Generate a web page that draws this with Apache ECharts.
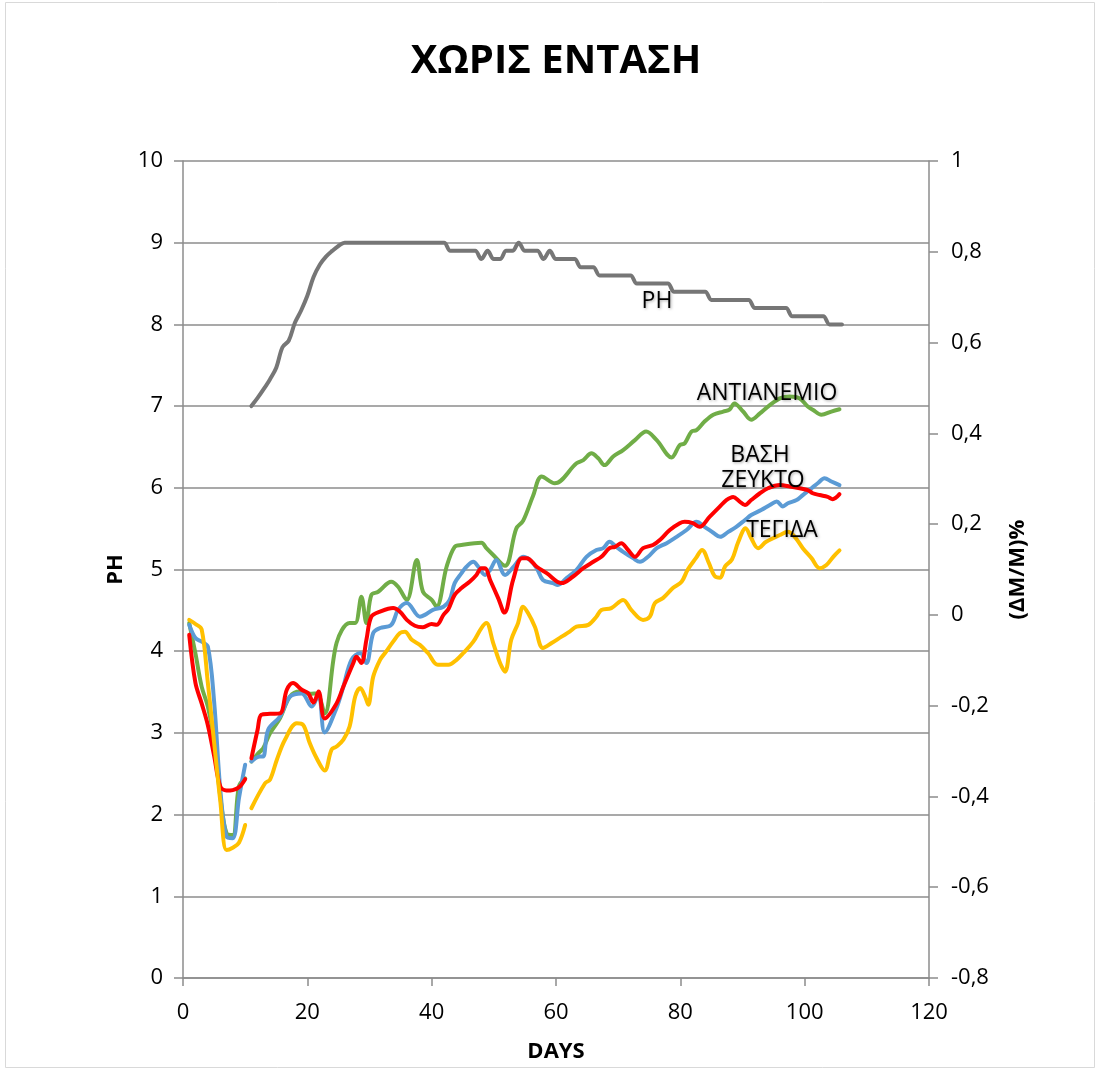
<!DOCTYPE html>
<html>
<head>
<meta charset="utf-8">
<script src="https://cdn.jsdelivr.net/npm/echarts@6/dist/echarts.min.js"></script>
<style>
  html, body { margin: 0; padding: 0; background: #ffffff; }
  #chart { width: 1100px; height: 1071px; }
</style>
</head>
<body>
<div id="chart"></div>
<script>
// pH of the leachate, one reading per day starting on day 11
const phStartDay = 11;
const phValues = [
  7.0, 7.1, 7.21, 7.33, 7.47, 7.72, 7.8, 8.02, 8.17, 8.35, 8.58, 8.73, 8.83, 8.9, 8.96,
  9.0, 9.0, 9.0, 9.0, 9.0, 9.0, 9.0, 9.0, 9.0, 9.0, 9.0, 9.0, 9.0, 9.0, 9.0, 9.0, 9.0,
  8.9, 8.9, 8.9, 8.9, 8.9,
  8.8, 8.9, 8.8, 8.8, 8.9, 8.9, 9.0, 8.9, 8.9, 8.9, 8.8, 8.9,
  8.8, 8.8, 8.8, 8.8,
  8.7, 8.7, 8.7,
  8.6, 8.6, 8.6, 8.6, 8.6, 8.6,
  8.5, 8.5, 8.5, 8.5, 8.5, 8.5,
  8.4, 8.4, 8.4, 8.4, 8.4, 8.4,
  8.3, 8.3, 8.3, 8.3, 8.3, 8.3, 8.3,
  8.2, 8.2, 8.2, 8.2, 8.2, 8.2,
  8.1, 8.1, 8.1, 8.1, 8.1, 8.1,
  8.0, 8.0, 8.0
];

// Mass change (ΔΜ/Μ)% per specimen as [day, value]; null marks the break after day 10
const antianemio = [
  [1, -0.018], [2, -0.085], [3, -0.158], [4, -0.202], [5, -0.275], [6, -0.4], [7, -0.481], [8, -0.485], [9, -0.378], [10, -0.36],
  [10.5, null],
  [11, -0.323], [12.1, -0.305], [12.9, -0.294], [14, -0.261], [15.6, -0.228], [17.2, -0.18], [18.8, -0.169], [20.4, -0.174],
  [21.5, -0.173], [22.8, -0.217], [24.7, -0.062], [26.8, -0.018], [27.7, -0.018], [28.7, 0.04], [29.5, -0.018], [30.3, 0.044],
  [31.4, 0.051], [33.5, 0.073], [34.6, 0.062], [36, 0.033], [37.6, 0.121], [38.6, 0.051], [40, 0.033], [40.8, 0.018],
  [42.4, 0.106], [43.7, 0.15], [44.8, 0.154], [48, 0.159], [48.8, 0.147], [49.9, 0.132], [51.8, 0.108], [53.6, 0.19],
  [54.7, 0.207], [56.3, 0.262], [57.7, 0.305], [59.8, 0.29], [63.3, 0.334], [64.4, 0.341], [65.7, 0.356], [66.8, 0.345],
  [67.8, 0.33], [69.2, 0.349], [70.8, 0.363], [72.7, 0.385], [74.5, 0.404], [76.2, 0.385], [78.6, 0.347], [79.9, 0.374],
  [80.7, 0.378], [81.8, 0.404], [82.6, 0.407], [83.9, 0.426], [85.3, 0.441], [86.9, 0.448], [87.9, 0.452], [88.7, 0.466],
  [90.1, 0.448], [91.4, 0.43], [92.8, 0.444], [94.1, 0.459], [96, 0.477], [97.6, 0.481], [99.2, 0.477], [100.5, 0.459],
  [101.3, 0.452], [102.7, 0.441], [104.3, 0.448], [105.6, 0.453]
];

const vasi = [
  [1, -0.022], [2, -0.051], [3, -0.059], [4, -0.07], [5, -0.19], [6, -0.385], [7, -0.488], [8, -0.492], [9, -0.404], [10, -0.33],
  [10.5, null],
  [11, -0.323], [12.4, -0.312], [12.9, -0.312], [13.7, -0.253], [15.6, -0.224], [17.2, -0.18], [19.1, -0.173], [20.7, -0.202],
  [21.8, -0.175], [22.8, -0.259], [24.7, -0.205], [25.8, -0.158], [27.1, -0.099], [28.5, -0.084], [29.5, -0.106], [30.6, -0.04],
  [31.7, -0.029], [33.5, -0.022], [34.6, 0.011], [36, 0.026], [38.1, -0.004], [38.9, 0], [40.2, 0.011], [41.9, 0.018],
  [42.9, 0.033], [43.7, 0.07], [44.8, 0.092], [45.6, 0.106], [46.7, 0.117], [47.5, 0.106], [48.6, 0.088], [49.4, 0.099],
  [50.4, 0.121], [51.8, 0.088], [53.3, 0.108], [54.7, 0.128], [55.8, 0.121], [56.9, 0.103], [57.9, 0.077], [59.5, 0.07],
  [60.3, 0.066], [61.7, 0.081], [63.3, 0.099], [64.9, 0.128], [66.5, 0.143], [67.6, 0.147], [68.6, 0.161], [69.7, 0.15],
  [70.8, 0.139], [72.4, 0.125], [73.5, 0.117], [74.8, 0.128], [76.2, 0.147], [77.8, 0.158], [79.4, 0.172], [81, 0.187],
  [82.6, 0.205], [83.9, 0.194], [85.3, 0.181], [86.4, 0.172], [87.7, 0.183], [89, 0.194], [90.4, 0.209], [91.4, 0.22],
  [93, 0.231], [94.4, 0.242], [95.5, 0.25], [96.5, 0.239], [97.3, 0.246], [98.7, 0.253], [99.7, 0.264], [101.1, 0.279],
  [102.1, 0.29], [103.2, 0.301], [104.3, 0.294], [105.6, 0.286]
];

const zeykto = [
  [1, -0.044], [2, -0.15], [3, -0.195], [4, -0.243], [5, -0.31], [6, -0.378], [7, -0.387], [8, -0.386], [9, -0.38], [10, -0.362],
  [10.5, null],
  [11, -0.316], [12, -0.253], [12.6, -0.22], [14, -0.218], [15.6, -0.217], [16.7, -0.165], [17.7, -0.15], [19.1, -0.165],
  [20.1, -0.172], [21, -0.193], [21.8, -0.169], [22.8, -0.228], [24.7, -0.195], [25.8, -0.158], [27.4, -0.106], [27.9, -0.092],
  [28.7, -0.106], [29.5, -0.055], [30.3, -0.004], [31.7, 0.007], [33.8, 0.015], [34.9, 0.007], [36, -0.011], [37.3, -0.024],
  [38.6, -0.027], [40, -0.02], [40.8, -0.022], [41.9, 0], [42.7, 0.013], [43.7, 0.044], [44.8, 0.059], [46.1, 0.073],
  [47.2, 0.088], [48, 0.103], [48.6, 0.103], [49.4, 0.077], [50.7, 0.037], [51.7, 0.005], [53.1, 0.077], [54.5, 0.125],
  [55.3, 0.125], [56.9, 0.106], [58.5, 0.092], [60.9, 0.07], [62.7, 0.084], [64.4, 0.103], [66, 0.117], [67.3, 0.128],
  [68.6, 0.147], [69.5, 0.15], [70.5, 0.158], [71.6, 0.143], [72.7, 0.128], [74, 0.147], [75.6, 0.154], [76.7, 0.165],
  [78.3, 0.187], [79.9, 0.202], [80.7, 0.205], [82, 0.202], [83.1, 0.194], [84.7, 0.216], [86.3, 0.238], [87.4, 0.253],
  [88.5, 0.26], [89.5, 0.25], [90.4, 0.242], [91.4, 0.253], [92.8, 0.268], [94.1, 0.279], [96, 0.286], [97.6, 0.283],
  [99.2, 0.279], [100.5, 0.275], [101.3, 0.268], [102.4, 0.264], [103.7, 0.26], [104.5, 0.255], [105.6, 0.266]
];

const tegida = [
  [1, -0.011], [2, -0.02], [3, -0.032], [4, -0.15], [5, -0.28], [6, -0.41], [7, -0.518], [8, -0.513], [9, -0.502], [10, -0.463],
  [10.5, null],
  [11, -0.426], [13.2, -0.371], [14, -0.363], [15.1, -0.319], [16.4, -0.275], [18.3, -0.239], [19.3, -0.242], [20.4, -0.283],
  [21.5, -0.316], [22.8, -0.343], [23.9, -0.297], [24.7, -0.29], [25.8, -0.275], [26.8, -0.246], [27.7, -0.18], [28.5, -0.161],
  [29.3, -0.18], [29.8, -0.198], [30.6, -0.136], [31.7, -0.099], [32.5, -0.084], [33.8, -0.059], [34.9, -0.04], [35.7, -0.037],
  [36.8, -0.055], [38.1, -0.066], [39.4, -0.084], [41, -0.11], [42.7, -0.11], [44, -0.099], [45.1, -0.084], [46.7, -0.059],
  [48, -0.029], [48.8, -0.018], [49.9, -0.062], [51, -0.106], [51.8, -0.125], [52.8, -0.055], [53.9, -0.018], [54.7, 0.018],
  [55.5, 0.004], [56.6, -0.026], [57.9, -0.073], [59.3, -0.062], [60.9, -0.048], [62.2, -0.037], [63.3, -0.026], [65.2, -0.022],
  [66.5, -0.004], [67.3, 0.011], [68.9, 0.015], [70.8, 0.033], [72.1, 0.011], [74, -0.011], [75.1, -0.004], [75.9, 0.026],
  [77.2, 0.037], [78.8, 0.059], [80.2, 0.073], [81.2, 0.1], [82.5, 0.125], [83.5, 0.143], [84.6, 0.114], [85.5, 0.086],
  [86.4, 0.082], [87.2, 0.107], [88.3, 0.122], [89.3, 0.16], [90.5, 0.191], [91.4, 0.169], [92.5, 0.147], [93.8, 0.161],
  [96, 0.176], [97.3, 0.183], [98.4, 0.172], [99.7, 0.147], [101.1, 0.125], [102.4, 0.103], [103.5, 0.11], [104.6, 0.128],
  [105.6, 0.142]
];

const chartTitle = 'ΧΩΡΙΣ ΕΝΤΑΣΗ';
const seriesLabels = { ph: 'PH', antianemio: 'ΑΝΤΙΑΝΕΜΙΟ', vasi: 'ΒΑΣΗ', zeykto: 'ΖΕΥΚΤΟ', tegida: 'ΤΕΓΙΔΑ' };

const phData = phValues.map((v, i) => [phStartDay + i, v]);

const FONT = '"Open Sans", "Noto Sans", sans-serif';
const GRID_GRAY = '#8c8c8c';

const chart = echarts.init(document.getElementById('chart'), null, { renderer: 'canvas' });

function commaNumber(v) {
  const r = Math.round(v * 10) / 10;
  return String(r).replace('.', ',');
}

function lineSeries(name, data, color, axisIndex) {
  return {
    name: name,
    type: 'line',
    data: data,
    yAxisIndex: axisIndex,
    smooth: 0.35,
    showSymbol: false,
    connectNulls: false,
    lineStyle: { color: color, width: 4, cap: 'round', join: 'round' },
    itemStyle: { color: color },
    emphasis: { disabled: true },
    animation: false
  };
}

const labelStyle = {
  fill: '#000000',
  fontFamily: FONT,
  fontSize: 23,
  textAlign: 'center',
  textVerticalAlign: 'middle',
  textShadowColor: 'rgba(0,0,0,0.35)',
  textShadowBlur: 3,
  textShadowOffsetX: 1,
  textShadowOffsetY: 1
};

function label(text, x, y) {
  return { type: 'text', x: x, y: y, z: 100, style: Object.assign({ text: text }, labelStyle) };
}

const axisNameStyle = { fontFamily: FONT, fontSize: 22, fontWeight: 'bold', color: '#000' };
const tickLabelStyle = { fontFamily: FONT, fontSize: 22, color: '#000' };

chart.setOption({
  backgroundColor: '#ffffff',
  animation: false,
  textStyle: { fontFamily: FONT },
  grid: { left: 183, right: 171, top: 161, bottom: 93, containLabel: false },
  xAxis: {
    type: 'value',
    min: 0, max: 120, interval: 20,
    name: 'DAYS',
    nameLocation: 'middle',
    nameGap: 63,
    nameTextStyle: axisNameStyle,
    axisLine: { show: true, onZero: false, lineStyle: { color: GRID_GRAY, width: 1.5 } },
    axisTick: { show: true, inside: false, length: 8, lineStyle: { color: GRID_GRAY, width: 1.5 } },
    axisLabel: Object.assign({ margin: 24 }, tickLabelStyle),
    splitLine: { show: false }
  },
  yAxis: [
    {
      type: 'value',
      min: 0, max: 10, interval: 1,
      name: 'PH',
      nameLocation: 'middle',
      nameGap: 56,
      nameRotate: 90,
      nameTextStyle: axisNameStyle,
      axisLine: { show: true, lineStyle: { color: GRID_GRAY, width: 1.5 } },
      axisTick: { show: true, inside: false, length: 9, lineStyle: { color: GRID_GRAY, width: 1.5 } },
      axisLabel: Object.assign({ margin: 20 }, tickLabelStyle),
      splitLine: { show: true, lineStyle: { color: GRID_GRAY, width: 1.5 } }
    },
    {
      type: 'value',
      min: -0.8, max: 1, interval: 0.2,
      position: 'right',
      name: '(ΔΜ/Μ)%',
      nameLocation: 'middle',
      nameGap: 78,
      nameRotate: 90,
      nameTextStyle: axisNameStyle,
      axisLine: { show: true, lineStyle: { color: GRID_GRAY, width: 1.5 } },
      axisTick: { show: true, inside: false, length: 9, lineStyle: { color: GRID_GRAY, width: 1.5 } },
      axisLabel: Object.assign({ margin: 22, formatter: commaNumber }, tickLabelStyle),
      splitLine: { show: false }
    }
  ],
  series: [
    lineSeries(seriesLabels.ph, phData, '#767676', 0),
    lineSeries(seriesLabels.antianemio, antianemio, '#70ad47', 1),
    lineSeries(seriesLabels.vasi, vasi, '#5b9bd5', 1),
    lineSeries(seriesLabels.zeykto, zeykto, '#ff0000', 1),
    lineSeries(seriesLabels.tegida, tegida, '#ffc000', 1)
  ],
  graphic: [
    {
      type: 'text', x: 556, y: 62, z: 100,
      style: { text: chartTitle, fill: '#000', fontFamily: FONT, fontSize: 40, fontWeight: 'bold', textAlign: 'center', textVerticalAlign: 'middle' }
    },
    label(seriesLabels.ph, 657, 301),
    label(seriesLabels.antianemio, 767, 393),
    label(seriesLabels.vasi, 760, 455),
    label(seriesLabels.zeykto, 763, 480),
    label(seriesLabels.tegida, 782, 530),
    {
      type: 'rect', z: 0, silent: true,
      shape: { x: 5.5, y: 2.5, width: 1089, height: 1065 },
      style: { fill: null, stroke: '#d9d9d9', lineWidth: 1 }
    }
  ]
});
</script>
</body>
</html>
